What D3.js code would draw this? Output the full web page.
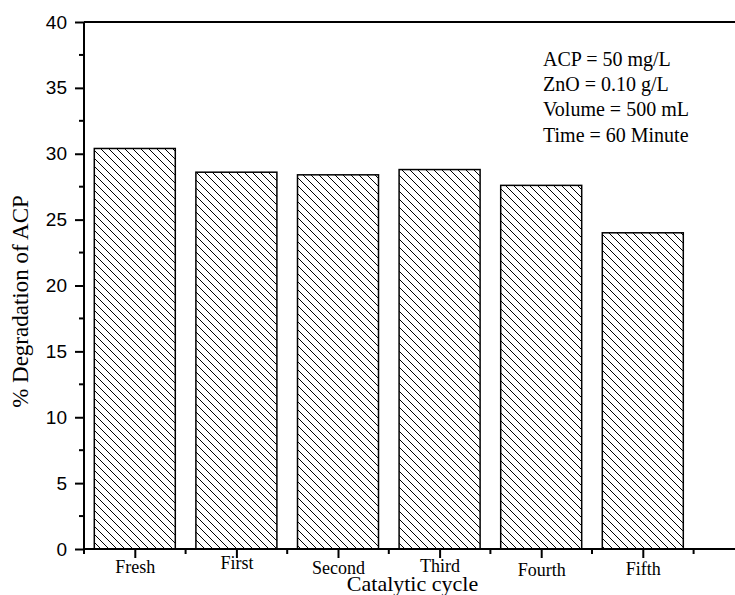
<!DOCTYPE html>
<html>
<head>
<meta charset="utf-8">
<script src="https://cdn.jsdelivr.net/npm/d3@7"></script>
<style>
  html, body { margin: 0; padding: 0; background: #fff; }
  svg { display: block; }
</style>
</head>
<body>
<svg id="chart" width="735" height="595"></svg>
<script>
// ---- data ----
const categories = ["Fresh", "First", "Second", "Third", "Fourth", "Fifth"];
const degradation = [30.4, 28.6, 28.4, 28.8, 27.6, 24.0];
const yTicks = [0, 5, 10, 15, 20, 25, 30, 35, 40];
const annotations = ["ACP = 50 mg/L", "ZnO = 0.10 g/L", "Volume = 500 mL", "Time = 60 Minute"];
const xLabelNudge = [0, -4, 1, -1, 3, 2]; // slight vertical offsets of category labels as in the source

// ---- layout ----
const svg = d3.select("#chart");
const plotLeft = 84, plotTop = 22, plotBottom = 549;
const x = d3.scaleLinear().domain([-0.5, 6.5]).range([plotLeft, plotLeft + 7 * 101.6]);
const y = d3.scaleLinear().domain([0, 40]).range([plotBottom, plotTop]);
const barW = 81;

// hatch pattern
const defs = svg.append("defs");
const pat = defs.append("pattern")
  .attr("id", "hatch").attr("patternUnits", "userSpaceOnUse")
  .attr("width", 8).attr("height", 8);
pat.append("rect").attr("width", 8).attr("height", 8).attr("fill", "#fff");
pat.append("path")
  .attr("d", "M-2,-2 L10,10 M-2,6 L2,10 M6,-2 L10,2")
  .attr("stroke", "#000").attr("stroke-width", 1);

// bars
svg.append("g").selectAll("rect").data(degradation).join("rect")
  .attr("x", (d, i) => x(i) - barW / 2)
  .attr("y", d => y(d))
  .attr("width", barW)
  .attr("height", d => y(0) - y(d))
  .attr("fill", "url(#hatch)")
  .attr("stroke", "#000").attr("stroke-width", 1.5);

// top frame line
svg.append("line").attr("x1", plotLeft).attr("x2", 735).attr("y1", plotTop).attr("y2", plotTop)
  .attr("stroke", "#000").attr("stroke-width", 2);

// y axis
const yAxis = d3.axisLeft(y).tickValues(yTicks).tickSize(9).tickSizeOuter(0).tickPadding(8);
const gy = svg.append("g").attr("transform", `translate(${plotLeft},0)`).call(yAxis);
gy.select(".domain").attr("stroke-width", 2).attr("d", `M0,${plotTop}V${plotBottom + 5}`);
gy.selectAll(".tick line").attr("stroke-width", 2);
gy.selectAll(".tick text").attr("font-family", "Arial, 'Liberation Sans', sans-serif")
  .attr("font-size", 19).attr("fill", "#000");
const yMinor = d3.range(2.5, 40, 5);
svg.append("g").selectAll("line").data(yMinor).join("line")
  .attr("x1", plotLeft - 5).attr("x2", plotLeft).attr("y1", d => y(d)).attr("y2", d => y(d))
  .attr("stroke", "#000").attr("stroke-width", 2);

// x axis
const xAxis = d3.axisBottom(x).tickValues(d3.range(categories.length))
  .tickFormat(i => categories[i]).tickSize(9).tickSizeOuter(0).tickPadding(2);
const gx = svg.append("g").attr("transform", `translate(0,${plotBottom})`).call(xAxis);
gx.select(".domain").attr("stroke-width", 2).attr("d", `M${plotLeft},0H735`);
gx.selectAll(".tick line").attr("stroke-width", 2);
gx.selectAll(".tick text").attr("font-family", "'Times New Roman', 'Liberation Serif', serif")
  .attr("font-size", 18).attr("fill", "#000")
  .attr("dy", (d, i) => (0.71 + xLabelNudge[i] / 18) + "em");
const xMinor = d3.range(0.5, 6.5, 1);
svg.append("g").selectAll("line").data(xMinor).join("line")
  .attr("x1", d => x(d)).attr("x2", d => x(d)).attr("y1", plotBottom).attr("y2", plotBottom + 5)
  .attr("stroke", "#000").attr("stroke-width", 2);

// axis titles
svg.append("text").attr("x", 412.5).attr("y", 590.5).attr("text-anchor", "middle")
  .attr("font-family", "'Times New Roman', 'Liberation Serif', serif").attr("font-size", 22)
  .text("Catalytic cycle");
svg.append("text").attr("transform", "translate(28,301.5) rotate(-90)").attr("text-anchor", "middle")
  .attr("font-family", "'Times New Roman', 'Liberation Serif', serif").attr("font-size", 23)
  .text("% Degradation of ACP");

// annotation block
svg.append("g").selectAll("text").data(annotations).join("text")
  .attr("x", 543).attr("y", (d, i) => 66 + i * 25.2)
  .attr("font-family", "'Times New Roman', 'Liberation Serif', serif").attr("font-size", 20)
  .text(d => d);
</script>
</body>
</html>
